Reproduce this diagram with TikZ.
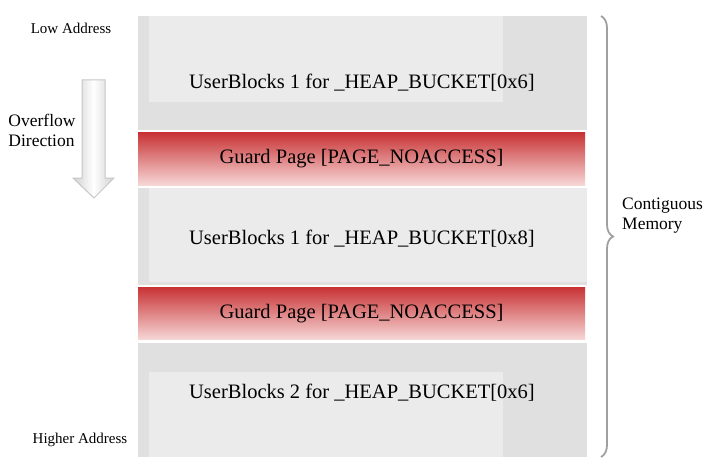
\documentclass[tikz,border=0pt]{standalone}
\usepackage{fontspec}
\setmainfont{Liberation Serif}
\usetikzlibrary{positioning,decorations.pathreplacing}
\definecolor{outergray}{RGB}{224,224,224}
\definecolor{innergray}{RGB}{235,235,235}
\definecolor{guardtop}{RGB}{200,52,54}
\definecolor{guardbot}{RGB}{247,214,214}
\definecolor{bracegray}{RGB}{160,160,160}
\begin{document}
\begin{tikzpicture}[x=1pt,y=-1pt]
\tikzstyle{every node}+=[inner sep=0pt]
\tikzstyle{block}=[fill=outergray,minimum width=449pt]
\tikzstyle{panel}=[fill=innergray]
\tikzstyle{guard}=[top color=guardtop,bottom color=guardbot,minimum width=447pt,minimum height=52pt]
\tikzstyle{big}=[font=\fontsize{20.5}{24}\selectfont]
\tikzstyle{small}=[font=\fontsize{15}{18}\selectfont]
\tikzstyle{side}=[font=\fontsize{17.5}{20}\selectfont,align=left]
\useasboundingbox (0,0) rectangle (725,476);
% user blocks and guard pages
\node [block,minimum height=114pt] (ub1) at (362.5,73) {};
\fill [panel] (149,16) rectangle (503,102);
\node [guard] (gp1) at (361.5,159) {};
\node [block,minimum height=97pt] (ub2) at (362.5,236.5) {};
\fill [panel] (149,188) rectangle (587,282);
\node [guard] (gp2) at (361.5,313.5) {};
\node [block,minimum height=114pt] (ub3) at (362.5,400) {};
\fill [panel] (149,372) rectangle (503,457);
\node [big] (t1) at (362,83) {UserBlocks 1 for \_HEAP\_BUCKET[0x6]};
\node [big] (t2) at (gp1) {Guard Page [PAGE\_NOACCESS]};
\node [big] (t3) at (362,239) {UserBlocks 1 for \_HEAP\_BUCKET[0x8]};
\node [big] (t4) at (gp2) {Guard Page [PAGE\_NOACCESS]};
\node [big] (t5) at (362,393) {UserBlocks 2 for \_HEAP\_BUCKET[0x6]};
% left side
\node [small] (low) at (71,28) {Low Address};
\node [small] (high) at (80,440) {Higher Address};
\node [side] (dir) at (42,130) {Overflow\\Direction};
\shade [left color=black!18,right color=black!18,middle color=white,draw=black!22,line width=1pt]
  (82,80) -- (105,80) -- (105,178) -- (114,178) -- (94,198) -- (73,178) -- (82,178) -- cycle;
% brace
\draw [bracegray,line width=1.8pt,decorate,decoration={brace,amplitude=12pt}] (601,16) -- (601,457);
\node [side,anchor=west] (mem) at (622,216) {Contiguous\\Memory};
\end{tikzpicture}
\end{document}
